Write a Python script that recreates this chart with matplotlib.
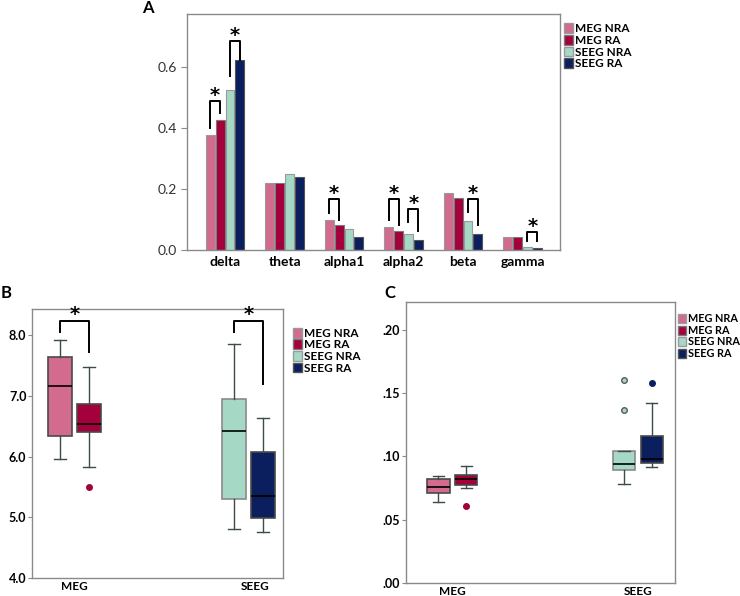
import numpy as np
import matplotlib.pyplot as plt
from matplotlib.patches import Patch

plt.rcParams['font.family'] = ['Lato', 'DejaVu Sans']

groups = ['MEG NRA', 'MEG RA', 'SEEG NRA', 'SEEG RA']
colors = ['#d36b8f', '#a3003c', '#a5d9c6', '#0b1f5e']
edges = ['#9a9a9a', '#7a7a7a', '#9a9a9a', '#555555']

# panel A: relative power per band
bands = ['delta', 'theta', 'alpha1', 'alpha2', 'beta', 'gamma']
meg_nra = [0.377, 0.220, 0.098, 0.075, 0.187, 0.043]
meg_ra = [0.425, 0.219, 0.082, 0.063, 0.170, 0.043]
seeg_nra = [0.525, 0.249, 0.068, 0.052, 0.095, 0.009]
seeg_ra = [0.623, 0.241, 0.043, 0.032, 0.053, 0.005]

# significance brackets: (band index, left group, right group, top, left leg end, right leg end)
brackets_a = [
    (0, 0, 1, 0.490, 0.400, 0.449),
    (0, 2, 3, 0.686, 0.570, 0.623),
    (2, 0, 1, 0.167, 0.121, 0.098),
    (3, 0, 1, 0.167, 0.098, 0.082),
    (3, 2, 3, 0.134, 0.092, 0.063),
    (4, 2, 3, 0.167, 0.126, 0.082),
    (5, 2, 3, 0.060, 0.031, 0.031),
]

# panel B: box stats (whislo, q1, med, q3, whishi, outliers)
stats_b = [
    (5.96, 6.34, 7.16, 7.64, 7.92, []),
    (5.83, 6.40, 6.54, 6.87, 7.47, [5.50]),
    (4.81, 5.30, 6.42, 6.95, 7.86, []),
    (4.75, 4.98, 5.35, 6.08, 6.63, []),
]
brackets_b = [(0, 8.24, 8.05, 7.73), (1, 8.24, 8.05, 7.20)]

# panel C
stats_c = [
    (0.0639, 0.0711, 0.0758, 0.0821, 0.0842, []),
    (0.0750, 0.0774, 0.0824, 0.0850, 0.0921, [0.0610]),
    (0.0784, 0.0892, 0.0942, 0.1042, 0.1042, [0.1363, 0.1605]),
    (0.0916, 0.0947, 0.0979, 0.1163, 0.1421, [0.1579]),
]

modalities = ['MEG', 'SEEG']

fig = plt.figure(figsize=(7.4, 5.96), dpi=100)
spine_col = '#8a8a8a'


def frame(ax):
    for s in ax.spines.values():
        s.set_color(spine_col)
        s.set_linewidth(1.0)


def legend(ax, x, y, size=8.5):
    handles = [Patch(facecolor=c, edgecolor=e, label=g) for c, e, g in zip(colors, edges, groups)]
    ax.legend(handles=handles, loc='upper left', bbox_to_anchor=(x, y), frameon=False,
              prop={'weight': 'bold', 'size': size}, handlelength=0.8, handleheight=0.9,
              handletextpad=0.15, labelspacing=0.05, borderaxespad=0, borderpad=0)


def bracket(ax, x0, x1, top, l0, l1, star_off):
    ax.plot([x0, x0, x1, x1], [l0, top, top, l1], color='black', lw=1.4, clip_on=False)
    ax.text((x0 + x1) / 2, top + star_off, '*', ha='center', va='center',
            fontsize=14, fontweight='bold', family='DejaVu Sans')


# ---------------- A ----------------
axA = fig.add_axes([0.2527, 0.5805, 0.5041, 0.396])
x = np.arange(len(bands))
offs = [-0.25, -0.083, 0.083, 0.25]
width = 0.15
for vals, o, c, e in zip([meg_nra, meg_ra, seeg_nra, seeg_ra], offs, colors, edges):
    axA.bar(x + o, vals, width, color=c, edgecolor=e, linewidth=0.8)
for b, g0, g1, top, l0, l1 in brackets_a:
    bracket(axA, b + offs[g0], b + offs[g1], top, l0, l1, 0.018)
axA.set_xlim(-0.64, 5.63)
axA.set_ylim(0, 0.774)
axA.set_yticks([0.0, 0.2, 0.4, 0.6])
axA.set_yticklabels(['0.0', '0.2', '0.4', '0.6'])
axA.set_xticks(x)
axA.set_xticklabels(bands, fontweight='bold', fontsize=10)
axA.tick_params(axis='x', length=0, pad=4)
axA.tick_params(axis='y', length=4, labelsize=10, color=spine_col, labelcolor='#333333')
frame(axA)
legend(axA, 1.01, 0.96)
fig.text(148 / 740, 1 - 8 / 596, 'A', fontsize=12, fontweight='bold', va='center', ha='center')


def boxpanel(ax, stats, xoff, bw):
    bxp = []
    pos = []
    for i, s in enumerate(stats):
        m = i // 2
        bxp.append(dict(whislo=s[0], q1=s[1], med=s[2], q3=s[3], whishi=s[4], fliers=s[5]))
        pos.append(m + (-xoff if i % 2 == 0 else xoff))
    art = ax.bxp(bxp, positions=pos, widths=bw, patch_artist=True, showfliers=True,
                 manage_ticks=False)
    for i, bx in enumerate(art['boxes']):
        bx.set_facecolor(colors[i])
        bx.set_edgecolor('#4a4a4a' if i != 2 else '#8a8a8a')
        bx.set_linewidth(1.2)
    for m in art['medians']:
        m.set_color('black')
        m.set_linewidth(1.2)
    for w in art['whiskers']:
        w.set_color('#3d4b4b')
        w.set_linewidth(1.0)
    for cp in art['caps']:
        cp.set_color('#3d4b4b')
        cp.set_linewidth(1.0)
    for i, fl in enumerate(art['fliers']):
        fl.set_marker('o')
        fl.set_markersize(4)
        fl.set_markerfacecolor(colors[i])
        fl.set_markeredgecolor('#5a5a5a' if i == 2 else colors[i])
    return pos


# ---------------- B ----------------
axB = fig.add_axes([0.0432, 0.0302, 0.3392, 0.4513])
posB = boxpanel(axB, stats_b, 0.084, 0.138)
for m, top, l0, l1 in brackets_b:
    bracket(axB, posB[2 * m], posB[2 * m + 1], top, l0, l1, 0.1)
axB.set_xlim(-0.245, 1.20)
axB.set_ylim(4.0, 8.43)
axB.set_yticks([4.0, 5.0, 6.0, 7.0, 8.0])
axB.set_yticklabels(['4.0', '5.0', '6.0', '7.0', '8.0'], fontweight='bold')
axB.set_xticks([0, 1.04])
axB.set_xticklabels(modalities, fontweight='bold', fontsize=8.5)
axB.tick_params(axis='x', length=0, pad=2)
axB.tick_params(axis='y', length=3, labelsize=9, color=spine_col, pad=1)
frame(axB)
legend(axB, 1.04, 0.93)
fig.text(6 / 740, 1 - 293 / 596, 'B', fontsize=12, fontweight='bold', va='center', ha='center')

# ---------------- C ----------------
axC = fig.add_axes([0.5486, 0.0218, 0.3636, 0.4715])
boxpanel(axC, stats_c, 0.075, 0.12)
axC.set_xlim(-0.25, 1.20)
axC.set_ylim(0, 0.222)
axC.set_yticks([0.0, 0.05, 0.10, 0.15, 0.20])
axC.set_yticklabels(['.00', '.05', '.10', '.15', '.20'], fontweight='bold')
axC.set_xticks([0, 1])
axC.set_xticklabels(modalities, fontweight='bold', fontsize=8.5)
axC.tick_params(axis='x', length=0, pad=2)
axC.tick_params(axis='y', length=3, labelsize=9, color=spine_col, pad=1)
frame(axC)
legend(axC, 1.01, 0.96, size=7.8)
fig.text(390 / 740, 1 - 293 / 596, 'C', fontsize=12, fontweight='bold', va='center', ha='center')

fig.savefig('out.png', dpi=100)
